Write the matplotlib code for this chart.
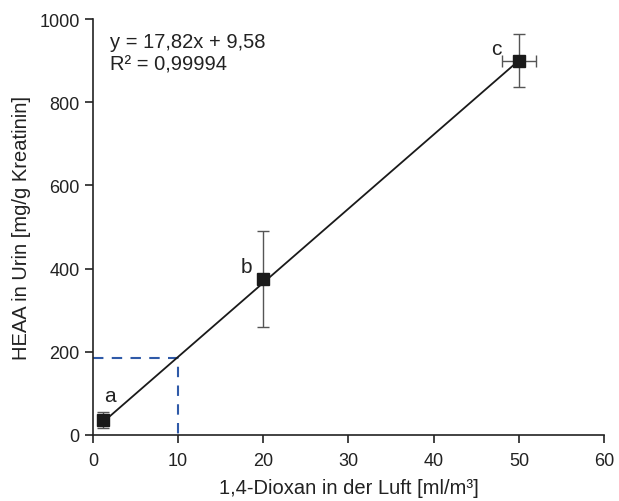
import matplotlib
matplotlib.use("Agg")
import matplotlib.pyplot as plt
import numpy as np

plt.rcParams['font.family'] = ['Liberation Sans', 'DejaVu Sans']

x_vals = [1.2, 20, 50]
y_vals = [36, 375, 900]
y_err = [19, 115, 64]
x_err = [0.4, 0.0, 2.0]
labels = ['a', 'b', 'c']
slope = 17.82
intercept = 9.58
ref_x = 10
ref_y = 185

fig = plt.figure(figsize=(6.19, 5.02), dpi=100)
ax = fig.add_axes([0.150, 0.1315, 0.826, 0.8285])

xl = np.array([x_vals[0], x_vals[-1]])
ax.plot(xl, slope * xl + intercept, color='#1a1a1a', lw=1.3, zorder=2)
ax.errorbar(x_vals, y_vals, yerr=y_err, xerr=x_err, fmt='s', color='#1a1a1a',
            ms=8, ecolor='#555555', elinewidth=1, capsize=4, capthick=1, zorder=3)
ax.plot([0, ref_x, ref_x], [ref_y, ref_y, 0], color='#2f5aa8', lw=1.5,
        ls=(0, (5, 4)), zorder=1)

label_pos = [(1.3, 95), (17.3, 405), (46.7, 930)]
for (lx, ly), lab in zip(label_pos, labels):
    ax.text(lx, ly, lab, fontsize=15, ha='left', va='center', color='#222222')

ax.text(2.0, 945, 'y = 17,82x + 9,58', fontsize=14.5, va='center', color='#222222')
ax.text(2.0, 893, 'R² = 0,99994', fontsize=14.5, va='center', color='#222222')

ax.set_xlim(0, 60)
ax.set_ylim(0, 1000)
ax.set_xticks(range(0, 61, 10))
ax.set_yticks(range(0, 1001, 200))
for s in ['top', 'right']:
    ax.spines[s].set_visible(False)
for s in ['left', 'bottom']:
    ax.spines[s].set_color('#222222')
    ax.spines[s].set_linewidth(1.2)
ax.tick_params(axis='x', pad=6)
ax.tick_params(direction='out', length=6, width=1.2, labelsize=13, colors='#222222')
ax.set_xlabel('1,4-Dioxan in der Luft [ml/m³]', fontsize=14.5, color='#222222', labelpad=7)
ax.set_ylabel('HEAA in Urin [mg/g Kreatinin]', fontsize=14.5, color='#222222', labelpad=6)

fig.savefig('out.png', dpi=100)
